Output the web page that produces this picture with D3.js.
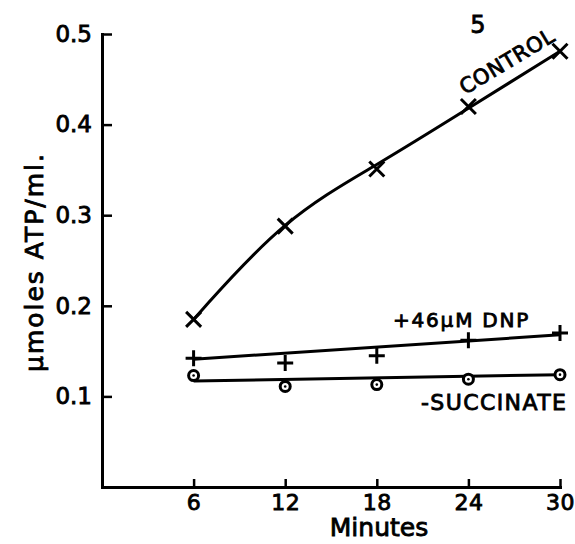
<!DOCTYPE html>
<html>
<head>
<meta charset="utf-8">
<script src="https://cdn.jsdelivr.net/npm/d3@7"></script>
<style>
  html, body { margin: 0; padding: 0; background: #fff; }
  svg { display: block; }
  text { font-family: "DejaVu Sans", sans-serif; fill: #000; stroke: #000; stroke-width: 0.85px; }
</style>
</head>
<body>
<svg id="chart" width="575" height="544"></svg>
<script>
// ---- data ----
const minutes      = [6, 12, 18, 24, 30];
const control      = [0.185, 0.288, 0.351, 0.420, 0.481];
// hand-drawn smooth control curve (B-spline knots at the same minutes)
const controlCurve = [0.185, 0.298, 0.355, 0.418, 0.481];
const dnp          = [0.142, 0.137, 0.145, 0.162, 0.170];
const succinate    = [0.123, 0.111, 0.113, 0.119, 0.124];
const fitMinutes   = [6, 30];
const dnpFit       = [0.141, 0.168];
const succinateFit = [0.117, 0.124];
const xTicks       = [6, 12, 18, 24, 30];
const xTickLabels  = ["6", "12", "18", "24", "30"];
const yTicks       = [0.1, 0.2, 0.3, 0.4, 0.5];
const yTickLabels  = ["0.1", "0.2", "0.3", "0.4", "0.5"];
const seriesLabels = ["CONTROL", "+46\u03BCM DNP", "-SUCCINATE"];
const panelLabel   = "5";
const xTitle       = "Minutes";
const yTitle       = "\u03BCmoles ATP/ml.";

// ---- layout ----
const svg = d3.select("#chart");
const x = d3.scaleLinear().domain([0, 30]).range([102, 560]);
const y = d3.scaleLinear().domain([0, 0.5]).range([487, 34]);

const axisStroke = 3;

// X axis
const gx = svg.append("g").attr("transform", `translate(0,${y(0)})`)
  .call(d3.axisBottom(x).tickValues(xTicks)
    .tickFormat((d, i) => xTickLabels[i])
    .tickSizeInner(-8).tickSizeOuter(0).tickPadding(7));
gx.select(".domain").attr("stroke", "#000").attr("stroke-width", axisStroke).attr("stroke-linecap", "square");
gx.selectAll(".tick line").attr("stroke", "#000").attr("stroke-width", 2.5);
gx.selectAll(".tick text").attr("font-size", 22).attr("font-family", "DejaVu Sans").attr("letter-spacing", 0.5);

// Y axis
const gy = svg.append("g").attr("transform", `translate(${x(0)},0)`)
  .call(d3.axisLeft(y).tickValues(yTicks)
    .tickFormat((d, i) => yTickLabels[i])
    .tickSizeInner(-10).tickSizeOuter(0).tickPadding(10));
gy.select(".domain").attr("stroke", "#000").attr("stroke-width", axisStroke).attr("stroke-linecap", "square");
gy.selectAll(".tick line").attr("stroke", "#000").attr("stroke-width", 2.5);
gy.selectAll(".tick text").attr("font-size", 23).attr("font-family", "DejaVu Sans");

// Lines
const lineStroke = 3;
const ctrlLine = d3.line().x((d, i) => x(minutes[i])).y(d => y(d)).curve(d3.curveBasis);
svg.append("path").datum(controlCurve).attr("d", ctrlLine)
  .attr("fill", "none").attr("stroke", "#000").attr("stroke-width", lineStroke);

const fitLine = d3.line().x((d, i) => x(fitMinutes[i])).y(d => y(d));
svg.append("path").datum(dnpFit).attr("d", fitLine)
  .attr("fill", "none").attr("stroke", "#000").attr("stroke-width", lineStroke);
svg.append("path").datum(succinateFit).attr("d", fitLine)
  .attr("fill", "none").attr("stroke", "#000").attr("stroke-width", lineStroke);

// Markers: control x
const s = 7.5;
svg.append("g").selectAll("path").data(control).join("path")
  .attr("transform", (d, i) => `translate(${x(minutes[i])},${y(d)})`)
  .attr("d", `M${-s},${-s}L${s},${s}M${-s},${s}L${s},${-s}`)
  .attr("stroke", "#000").attr("stroke-width", 3).attr("fill", "none");

// Markers: dnp +
const p = 8;
svg.append("g").selectAll("path").data(dnp).join("path")
  .attr("transform", (d, i) => `translate(${x(minutes[i])},${y(d)})`)
  .attr("d", `M${-p},0L${p},0M0,${-p}L0,${p}`)
  .attr("stroke", "#000").attr("stroke-width", 3).attr("fill", "none");

// Markers: succinate circled dot
const sg = svg.append("g").selectAll("g").data(succinate).join("g")
  .attr("transform", (d, i) => `translate(${x(minutes[i])},${y(d)})`);
sg.append("circle").attr("r", 5).attr("fill", "#fff").attr("stroke", "#000").attr("stroke-width", 3);
sg.append("circle").attr("r", 1.3).attr("fill", "#000");

// Labels
svg.append("text").text(panelLabel)
  .attr("x", 478).attr("y", 33).attr("text-anchor", "middle").attr("font-size", 24);

svg.append("text").text(seriesLabels[0])
  .attr("transform", `translate(465,95) rotate(-31)`)
  .attr("font-size", 21).attr("letter-spacing", 0.6);

svg.append("text").text(seriesLabels[1])
  .attr("x", 393).attr("y", 327).attr("font-size", 20).attr("letter-spacing", 1.8);

svg.append("text").text(seriesLabels[2])
  .attr("x", 421).attr("y", 410).attr("font-size", 22).attr("letter-spacing", 1.4);

// Axis titles
svg.append("text").text(xTitle)
  .attr("x", 379).attr("y", 536).attr("text-anchor", "middle").attr("font-size", 25);

svg.append("text").text(yTitle)
  .attr("transform", `translate(43,262) rotate(-90)`)
  .attr("text-anchor", "middle").attr("font-size", 25).attr("letter-spacing", 2);
</script>
</body>
</html>
